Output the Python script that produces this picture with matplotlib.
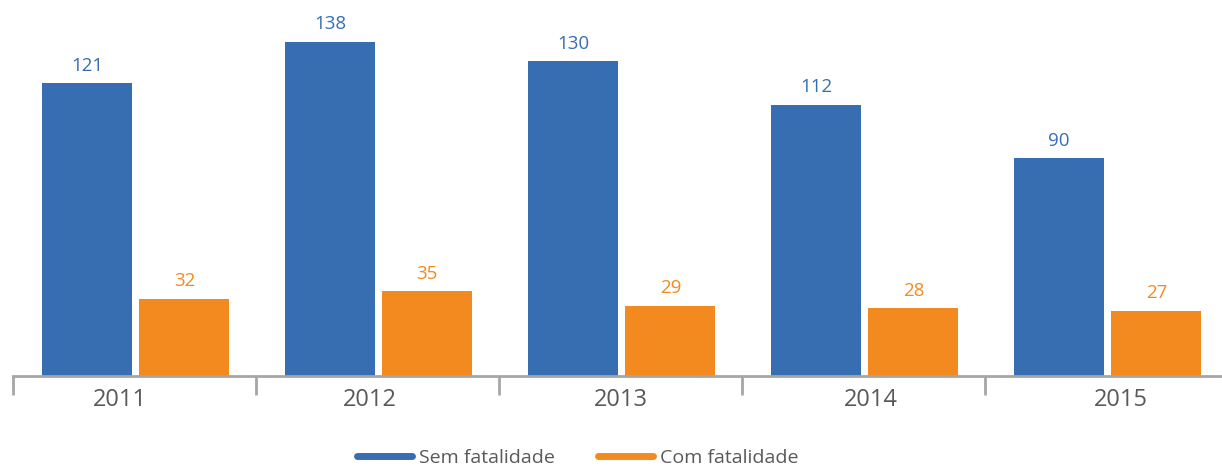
import numpy as np
import matplotlib.pyplot as plt
from matplotlib.lines import Line2D

years = ['2011', '2012', '2013', '2014', '2015']
sem_fatalidade = [121, 138, 130, 112, 90]
com_fatalidade = [32, 35, 29, 28, 27]

blue = '#376EB2'
orange = '#F38A20'
grey = '#A6A6A6'

plt.rcParams['font.family'] = ['Open Sans', 'DejaVu Sans']

fig = plt.figure(figsize=(12.22, 4.67), dpi=100)
ax = fig.add_axes([13/1222, (467-376)/467, 1215/1222, 376/467])

x = np.arange(len(years))
w = 0.37
ax.bar(x - 0.195, sem_fatalidade, w, color=blue)
ax.bar(x + 0.205, com_fatalidade, w, color=orange)

for i in x:
    ax.text(i - 0.195, sem_fatalidade[i] + 3.5, str(sem_fatalidade[i]), ha='center',
            va='bottom', color=blue, fontsize=13.5)
    ax.text(i + 0.205, com_fatalidade[i] + 3.5, str(com_fatalidade[i]), ha='center',
            va='bottom', color=orange, fontsize=13.5)

ax.set_xlim(-0.5, 4.5)
ax.set_ylim(0, 155.3)

for s in ['top', 'right', 'left']:
    ax.spines[s].set_visible(False)
ax.spines['bottom'].set_color(grey)
ax.spines['bottom'].set_linewidth(2)
ax.set_yticks([])
# year labels sit slightly spread out from the category centres
ax.set_xticks(x * 1.03 - 0.06)
ax.set_xticklabels(years, fontsize=17, color='#595959')
ax.tick_params(axis='x', which='major', length=0, pad=9)
ax.set_xticks(np.arange(-0.5, 4.6, 1), minor=True)
ax.tick_params(axis='x', which='minor', length=14, width=2, color=grey)

handles = [Line2D([0], [0], color=blue, lw=5, solid_capstyle='round'),
           Line2D([0], [0], color=orange, lw=5, solid_capstyle='round')]
fig.legend(handles, ['Sem fatalidade', 'Com fatalidade'], loc='center',
           bbox_to_anchor=(578/1222, 1 - 458/467), ncol=2, frameon=False,
           fontsize=14, handlelength=2.8, handletextpad=0.4, columnspacing=2.2,
           labelcolor='#595959')

fig.savefig('out.png', dpi=100)
